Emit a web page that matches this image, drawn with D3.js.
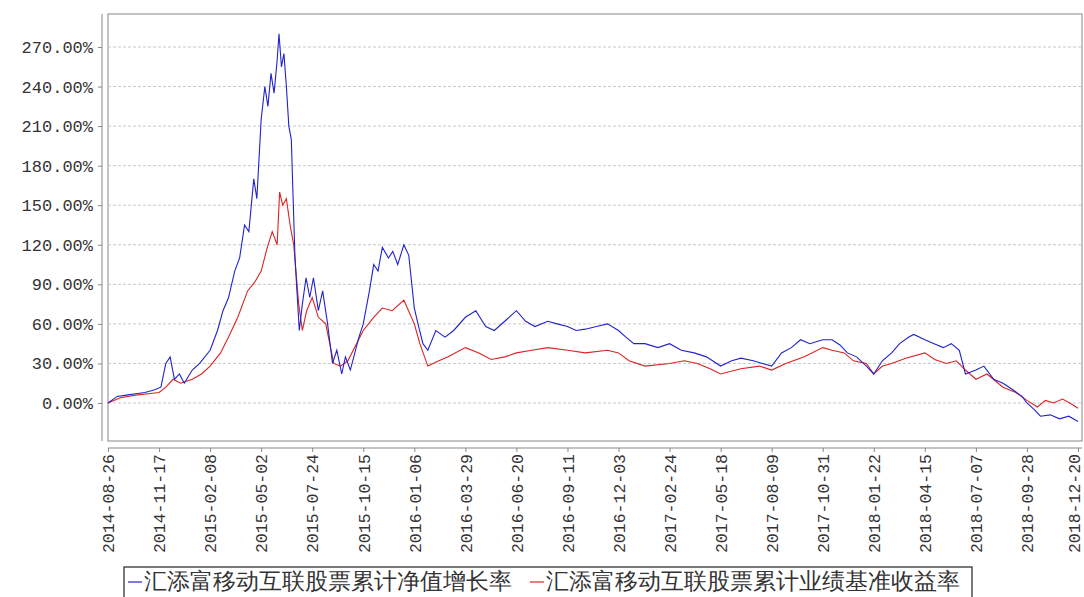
<!DOCTYPE html>
<html>
<head>
<meta charset="utf-8">
<script src="https://d3js.org/d3.v7.min.js"></script>
<style>
  body { margin: 0; background: #fff; }
  svg text { font-family: "Liberation Mono", monospace; fill: #333; }
</style>
</head>
<body>
<svg id="chart" width="1084" height="597"></svg>
<script>
// tick labels on the x axis
var tickDates = ["2014-08-26","2014-11-17","2015-02-08","2015-05-02","2015-07-24","2015-10-15",
  "2016-01-06","2016-03-29","2016-06-20","2016-09-11","2016-12-03","2017-02-24","2017-05-18",
  "2017-08-09","2017-10-31","2018-01-22","2018-04-15","2018-07-07","2018-09-28","2018-12-20"];
var yTicks = [0, 30, 60, 90, 120, 150, 180, 210, 240, 270];

// fund net value growth (%)
var fundDates = ["2014-08-26","2014-09-10","2014-09-25","2014-10-10","2014-10-25","2014-11-10","2014-11-20",
  "2014-11-28","2014-12-05","2014-12-12","2014-12-20","2014-12-28","2015-01-10","2015-01-22","2015-02-08",
  "2015-02-20","2015-03-01","2015-03-10","2015-03-20","2015-03-28","2015-04-05","2015-04-12","2015-04-20",
  "2015-04-25","2015-05-02","2015-05-08","2015-05-13","2015-05-18","2015-05-23","2015-05-28","2015-05-31",
  "2015-06-04","2015-06-08","2015-06-12","2015-06-16","2015-06-20","2015-06-26","2015-07-03","2015-07-08",
  "2015-07-14","2015-07-20","2015-07-26","2015-08-03","2015-08-10","2015-08-18","2015-08-26","2015-09-02",
  "2015-09-10","2015-09-16","2015-09-24","2015-10-08","2015-10-15","2015-10-25","2015-11-01","2015-11-08",
  "2015-11-15","2015-11-25","2015-12-02","2015-12-10","2015-12-20","2015-12-28","2016-01-06","2016-01-12",
  "2016-01-20","2016-01-28","2016-02-10","2016-02-25","2016-03-10","2016-03-29","2016-04-15","2016-05-01",
  "2016-05-15","2016-06-01","2016-06-20","2016-07-05","2016-07-20","2016-08-10","2016-08-25","2016-09-11",
  "2016-09-25","2016-10-10","2016-10-28","2016-11-15","2016-12-03","2016-12-15","2016-12-28","2017-01-15",
  "2017-02-05","2017-02-24","2017-03-15","2017-04-05","2017-04-25","2017-05-18","2017-06-05","2017-06-20",
  "2017-07-10","2017-07-25","2017-08-09","2017-08-25","2017-09-10","2017-09-25","2017-10-10","2017-10-31",
  "2017-11-15","2017-11-28","2017-12-10","2017-12-25","2018-01-10","2018-01-22","2018-02-05","2018-02-20",
  "2018-03-05","2018-03-20","2018-03-28","2018-04-15","2018-04-30","2018-05-15","2018-05-28","2018-06-10",
  "2018-06-20","2018-07-07","2018-07-20","2018-08-05","2018-08-20","2018-09-05","2018-09-20","2018-09-28",
  "2018-10-10","2018-10-20","2018-11-05","2018-11-20","2018-12-05","2018-12-20"];
var fundValues = [0,5,6,7,8,10,12,
  30,35,18,22,15,25,30,40,
  55,70,80,100,110,135,130,170,
  155,215,240,225,250,235,260,280,
  255,265,240,210,200,110,55,75,
  95,80,95,70,85,60,30,40,
  22,35,25,50,60,85,105,100,
  118,110,115,105,120,112,72,60,
  45,40,55,50,55,65,70,58,
  55,62,70,62,58,62,60,58,
  55,56,58,60,55,50,45,45,
  42,45,40,38,35,28,32,34,
  32,30,28,38,42,48,45,48,
  48,44,38,35,28,22,32,38,
  45,50,52,48,45,42,45,40,
  22,25,28,18,15,10,5,0,
  -5,-10,-9,-12,-10,-14];

// benchmark return (%)
var benchDates = ["2014-08-26","2014-09-15","2014-10-10","2014-10-30","2014-11-17","2014-11-28","2014-12-10",
  "2014-12-22","2015-01-10","2015-01-25","2015-02-08","2015-02-25","2015-03-10","2015-03-25","2015-04-10",
  "2015-04-22","2015-05-02","2015-05-12","2015-05-20","2015-05-28","2015-06-01","2015-06-06","2015-06-12",
  "2015-06-18","2015-06-24","2015-07-02","2015-07-08","2015-07-15","2015-07-24","2015-08-03","2015-08-15",
  "2015-08-28","2015-09-08","2015-09-20","2015-10-15","2015-11-01","2015-11-15","2015-12-01","2015-12-20",
  "2016-01-06","2016-01-15","2016-01-28","2016-02-15","2016-03-01","2016-03-29","2016-04-20","2016-05-10",
  "2016-06-01","2016-06-20","2016-07-15","2016-08-10","2016-09-11","2016-10-10","2016-11-15","2016-12-03",
  "2016-12-20","2017-01-15","2017-02-24","2017-03-20","2017-04-10","2017-05-01","2017-05-18","2017-06-20",
  "2017-07-20","2017-08-09","2017-09-01","2017-10-01","2017-10-31","2017-11-15","2017-12-05","2017-12-20",
  "2018-01-10","2018-01-22","2018-02-05","2018-02-20","2018-03-15","2018-04-15","2018-05-01","2018-05-20",
  "2018-06-05","2018-06-20","2018-07-07","2018-07-25","2018-08-20","2018-09-10","2018-09-28","2018-10-15",
  "2018-10-28","2018-11-10","2018-11-25","2018-12-10","2018-12-20"];
var benchValues = [0,4,6,7,8,12,18,
  15,18,22,28,38,50,65,85,
  92,100,118,130,120,160,150,155,
  135,120,75,55,70,80,65,60,
  30,28,32,55,65,72,70,78,
  60,45,28,32,35,42,38,33,
  35,38,40,42,40,38,40,38,
  32,28,30,32,30,26,22,26,
  28,25,30,35,42,40,38,32,
  30,22,28,30,34,38,33,30,
  32,25,18,22,12,8,2,-3,
  2,0,3,-1,-4];

var m = { left: 108, right: 1082, top: 14, bottom: 441 };
var svg = d3.select("#chart");
var parse = d3.timeParse("%Y-%m-%d");

var x = d3.scaleTime().domain([parse("2014-08-26"), parse("2018-12-20")]).range([m.left, 1078]);
var y = d3.scaleLinear().domain([0, 270]).range([403, 47]);

// plot frame
svg.append("rect").attr("x", m.left).attr("y", m.top)
  .attr("width", m.right - m.left).attr("height", m.bottom - m.top)
  .attr("fill", "#fff").attr("stroke", "#888");

// gridlines
svg.append("g").selectAll("line").data(yTicks).join("line")
  .attr("x1", m.left).attr("x2", m.right)
  .attr("y1", d => y(d)).attr("y2", d => y(d))
  .attr("stroke", "#c8c8c8").attr("stroke-dasharray", "3,2");

// y axis (offset)
var ya = svg.append("g").attr("transform", "translate(102,0)")
  .call(d3.axisLeft(y).tickValues(yTicks).tickSize(4).tickFormat(d => d.toFixed(2) + "%"));
ya.select(".domain").attr("d", "M0," + m.top + "V" + m.bottom).attr("stroke", "#888");
ya.selectAll(".tick line").attr("stroke", "#888");
ya.selectAll("text").attr("font-size", 17).attr("font-family", "Liberation Mono").attr("fill", "#333")
  .attr("x", -9);

// x axis (offset)
var xa = svg.append("g").attr("transform", "translate(0,448)")
  .call(d3.axisBottom(x).tickValues(tickDates.map(parse)).tickSize(4).tickFormat(d3.timeFormat("%Y-%m-%d")));
xa.select(".domain").attr("d", "M" + m.left + ",0H" + m.right).attr("stroke", "#888");
xa.selectAll(".tick line").attr("stroke", "#888");
xa.selectAll("text").attr("font-size", 16.5).attr("font-family", "Liberation Mono").attr("fill", "#333")
  .attr("transform", "rotate(-90)").attr("text-anchor", "end")
  .attr("x", -6).attr("y", 0).attr("dy", (d, i) => i === tickDates.length - 1 ? "0.1em" : "0.35em");

var line = d3.line().x(d => x(d[0])).y(d => y(d[1]));
function pts(ds, vs) { return ds.map((d, i) => [parse(d), vs[i]]); }

svg.append("path").datum(pts(benchDates, benchValues)).attr("d", line)
  .attr("fill", "none").attr("stroke", "#dd2222").attr("stroke-width", 1.1);
svg.append("path").datum(pts(fundDates, fundValues)).attr("d", line)
  .attr("fill", "none").attr("stroke", "#2222cc").attr("stroke-width", 1.1);

// legend
var lg = svg.append("g");
lg.append("rect").attr("x", 124).attr("y", 567).attr("width", 848).attr("height", 32)
  .attr("fill", "#fff").attr("stroke", "#222").attr("stroke-width", 1.2);
var items = [
  { name: "汇添富移动互联股票累计净值增长率", color: "#2222cc", x: 128 },
  { name: "汇添富移动互联股票累计业绩基准收益率", color: "#dd2222", x: 530 }
];
items.forEach(function (it) {
  lg.append("line").attr("x1", it.x).attr("x2", it.x + 14).attr("y1", 582).attr("y2", 582)
    .attr("stroke", it.color).attr("stroke-width", 1.2);
  lg.append("text").attr("x", it.x + 16).attr("y", 589).text(it.name)
    .attr("font-size", 22.5).attr("font-family", "Noto Sans CJK SC").attr("fill", "#333");
});
</script>
</body>
</html>
